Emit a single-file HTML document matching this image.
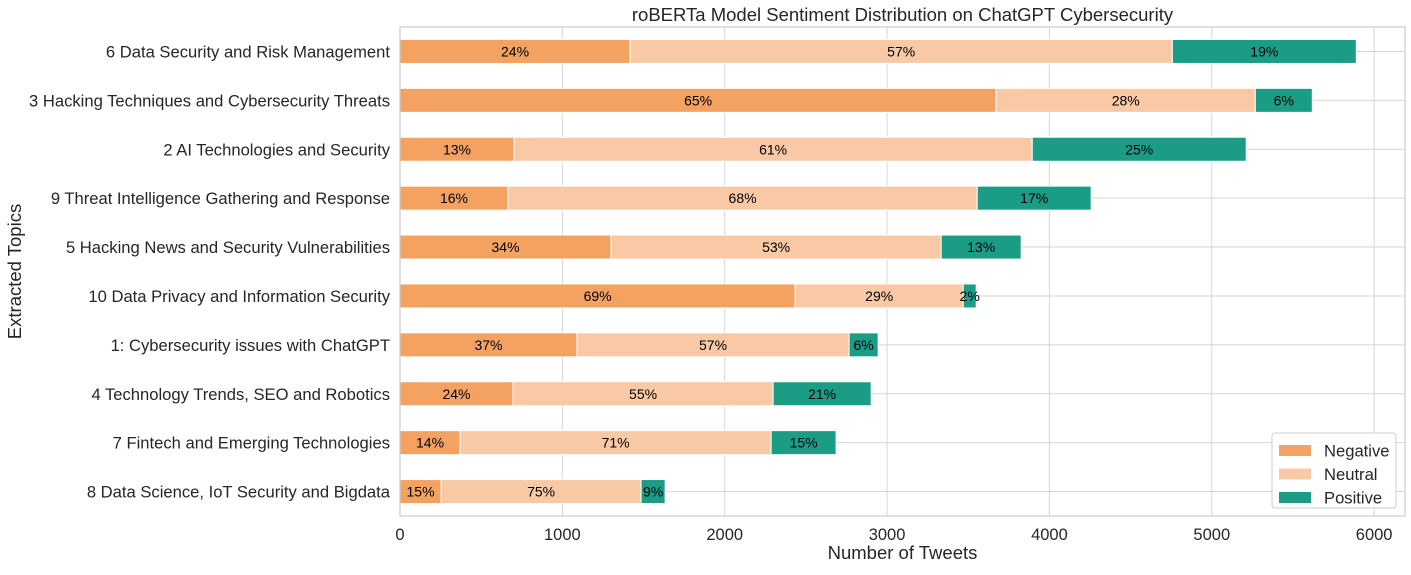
<!DOCTYPE html>
<html><head><meta charset="utf-8"><style>
body{margin:0;background:#fff;}
svg text{font-family:"Liberation Sans",Arial,sans-serif;}
</style></head><body>
<svg id="chart" width="1411" height="570" xmlns="http://www.w3.org/2000/svg"></svg>
<script>
const categories=["6 Data Security and Risk Management","3 Hacking Techniques and Cybersecurity Threats","2 AI Technologies and Security","9 Threat Intelligence Gathering and Response","5 Hacking News and Security Vulnerabilities","10 Data Privacy and Information Security","1: Cybersecurity issues with ChatGPT","4 Technology Trends, SEO and Robotics","7 Fintech and Emerging Technologies","8 Data Science, IoT Security and Bigdata"];
const negative=[1417,3672,702,665,1300,2434,1090,696,370,253];
const neutral=[3340,1596,3192,2890,2033,1035,1676,1602,1916,1232];
const positive=[1133,351,1318,702,493,80,179,604,400,148];
const negLabels=["24%","65%","13%","16%","34%","69%","37%","24%","14%","15%"];
const neuLabels=["57%","28%","61%","68%","53%","29%","57%","55%","71%","75%"];
const posLabels=["19%","6%","25%","17%","13%","2%","6%","21%","15%","9%"];
const xTicks=[0,1000,2000,3000,4000,5000,6000];
const colors=["#f4a261","#f8c9a4","#1b9c85"];
const seriesNames=["Negative","Neutral","Positive"];

const NS="http://www.w3.org/2000/svg";
const svg=document.getElementById('chart');
const L=400,R=1405,T=27,B=516,xMax=6190;
function xs(v){return L+v*(R-L)/xMax;}
const band=(B-T)/categories.length;
function yc(i){return T+band*(i+0.5);}
function mk(tag,attrs,parent){const e=document.createElementNS(NS,tag);for(const k in attrs)e.setAttribute(k,attrs[k]);(parent||svg).appendChild(e);return e;}

xTicks.forEach(t=>{
  const g=mk('line',{x1:xs(t),x2:xs(t),y1:T,y2:B,stroke:'#d6d6d6','stroke-width':1});
  
  
  const tx=mk('text',{x:xs(t),y:B+24,'text-anchor':'middle','font-size':16.5,fill:'#262626'});
  tx.textContent=t;
  
  
});
categories.forEach((c,i)=>{
  const g=mk('line',{x1:L,x2:R,y1:yc(i),y2:yc(i),stroke:'#d6d6d6','stroke-width':1});
  
  
  const tx=mk('text',{x:L-10,y:yc(i)+6,'text-anchor':'end','font-size':16.6,fill:'#262626'});
  tx.textContent=c;
  
  
});
const series=[negative,neutral,positive];
const labs=[negLabels,neuLabels,posLabels];
const bh=24;
categories.forEach((c,i)=>{
  let acc=0;
  series.forEach((s,k)=>{
    const x0=xs(acc),x1=xs(acc+s[i]);
    const r=mk('rect',{x:x0,y:yc(i)-bh/2,width:x1-x0,height:bh,fill:colors[k],stroke:'#fff','stroke-width':1});
    
    
    const t=mk('text',{x:(x0+x1)/2,y:yc(i)+5,'text-anchor':'middle','font-size':14,fill:'#000'});
    t.textContent=labs[k][i];
    
    
    acc+=s[i];
  });
});
const f=mk('rect',{x:L,y:T,width:R-L,height:B-T,fill:'none',stroke:'#cccccc','stroke-width':1.2});


const ti=mk('text',{x:(L+R)/2,y:21,'text-anchor':'middle','font-size':18.5,fill:'#262626'});
ti.textContent='roBERTa Model Sentiment Distribution on ChatGPT Cybersecurity';


const xt=mk('text',{x:(L+R)/2,y:559,'text-anchor':'middle','font-size':18.5,fill:'#262626'});
xt.textContent='Number of Tweets';


const yt=mk('text',{x:21,y:(T+B)/2,'text-anchor':'middle','font-size':18.5,fill:'#262626',transform:'rotate(-90 21 '+((T+B)/2)+')'});
yt.textContent='Extracted Topics';


const lg=mk('g',{});


mk('rect',{x:1272,y:433,width:124,height:75,rx:3,fill:'#fff','fill-opacity':0.85,stroke:'#cccccc'},lg);
seriesNames.forEach((n,k)=>{
  const y=445+k*23.5;
  const sw=mk('rect',{x:1279,y:y,width:32,height:11,fill:colors[k]},lg);
  
  
  const t=mk('text',{x:1324,y:y+11.5,'font-size':16.6,fill:'#262626'},lg);
  t.textContent=n;
  
  
});
</script>
</body></html>
